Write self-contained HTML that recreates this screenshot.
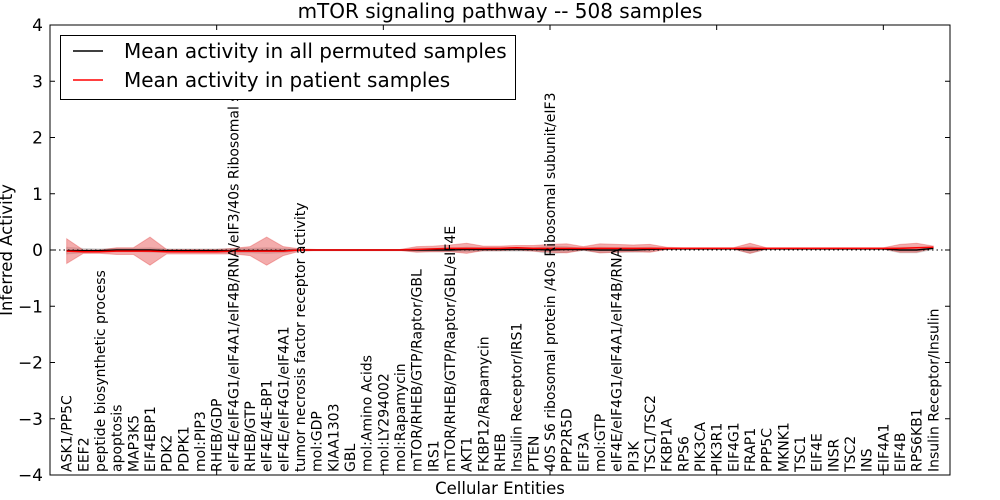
<!DOCTYPE html>
<html><head><meta charset="utf-8"><style>
body{margin:0;background:#fff;}
svg{display:block;font-family:"DejaVu Sans","Liberation Sans",sans-serif;}
</style></head><body>
<svg id="chart" width="1000" height="500" viewBox="0 0 1000 500">
<rect x="0" y="0" width="1000" height="500" fill="#fff"/>
<g id="plot"></g>
</svg>
<script>
const categories=["ASK1/PP5C","EEF2","peptide biosynthetic process","apoptosis","MAP3K5","EIF4EBP1","PDK2","PDPK1","mol:PIP3","RHEB/GDP","eIF4E/eIF4G1/eIF4A1/eIF4B/RNA/eIF3/40s Ribosomal s","RHEB/GTP","eIF4E/4E-BP1","eIF4E/eIF4G1/eIF4A1","tumor necrosis factor receptor activity","mol:GDP","KIAA1303","GBL","mol:Amino Acids","mol:LY294002","mol:Rapamycin","mTOR/RHEB/GTP/Raptor/GBL","IRS1","mTOR/RHEB/GTP/Raptor/GBL/eIF4E","AKT1","FKBP12/Rapamycin","RHEB","Insulin Receptor/IRS1","PTEN","40S S6 ribosomal protein /40s Ribosomal subunit/eIF3","PPP2R5D","EIF3A","mol:GTP","eIF4E/eIF4G1/eIF4A1/eIF4B/RNA","PI3K","TSC1/TSC2","FKBP1A","RPS6","PIK3CA","PIK3R1","EIF4G1","FRAP1","PPP5C","MKNK1","TSC1","EIF4E","INSR","TSC2","INS","EIF4A1","EIF4B","RPS6KB1","Insulin Receptor/Insulin"];
const patientMean=[-0.02,-0.03,-0.03,-0.02,-0.02,-0.02,-0.03,-0.03,-0.03,-0.03,-0.02,-0.02,-0.02,-0.02,0,0,0,0,0,0,0,0.01,0.02,0.03,0.03,0.03,0.03,0.04,0.03,0.03,0.03,0.03,0.03,0.03,0.03,0.03,0.03,0.03,0.03,0.03,0.03,0.03,0.03,0.03,0.03,0.03,0.03,0.03,0.03,0.03,0.03,0.04,0.05];
const patientSpread=[0.22,0.03,0.03,0.06,0.06,0.25,0.04,0.04,0.04,0.04,0.05,0.08,0.25,0.08,0.02,0.01,0.01,0.01,0.01,0.01,0.01,0.05,0.05,0.06,0.09,0.04,0.04,0.04,0.05,0.07,0.08,0.03,0.08,0.07,0.06,0.07,0.02,0.01,0.01,0.01,0.01,0.09,0.01,0.01,0.01,0.01,0.01,0.01,0.01,0.01,0.07,0.08,0.02];
const permMean=[-0.01,-0.01,-0.01,0,0,0,-0.01,-0.01,-0.01,-0.01,-0.01,-0.01,-0.01,-0.01,0,0,0,0,0,0,0,0,0,0,0.01,0.01,0.01,0.01,0.01,0,0.01,0.01,0,0,0,0.01,0.02,0.02,0.02,0.02,0.02,0,0.02,0.02,0.02,0.02,0.02,0.02,0.02,0.02,0,0,0.03];
const permSpread=[0.06,0.04,0.03,0.03,0.03,0.04,0.03,0.03,0.03,0.03,0.04,0.04,0.05,0.04,0.01,0.01,0.01,0.01,0.01,0.01,0.01,0.03,0.03,0.03,0.04,0.03,0.03,0.03,0.03,0.07,0.05,0.02,0.05,0.04,0.04,0.04,0.01,0.01,0.01,0.01,0.01,0.06,0.01,0.01,0.01,0.01,0.01,0.01,0.01,0.01,0.05,0.05,0.02];
const yTicks=[-4,-3,-2,-1,0,1,2,3,4];
const xTicks=[10,20,30,40,50];

const L=50,R=950,T=25,B=475;
const xs=i=>L+(i+1)*(R-L)/(categories.length+1);
const xv=v=>L+v*(R-L)/(categories.length+1);
const ys=v=>T+(4-v)*(B-T)/8;
const NS="http://www.w3.org/2000/svg";
const g=document.getElementById('plot');
function mk(tag,attrs,parent){const e=document.createElementNS(NS,tag);for(const k in attrs)e.setAttribute(k,attrs[k]);(parent||g).appendChild(e);return e;}
function band(mean,spread,fill,op,name){
  let pts=[];
  for(let i=0;i<mean.length;i++)pts.push(xs(i)+','+ys(mean[i]+spread[i]));
  for(let i=mean.length-1;i>=0;i--)pts.push(xs(i)+','+ys(mean[i]-spread[i]));
  const p=mk('polygon',{points:pts.join(' '),fill:fill,'fill-opacity':op,stroke:fill,'stroke-opacity':op*0.8,'stroke-width':1});
  
  
}
function line(mean,color,name){
  const p=mk('polyline',{points:mean.map((v,i)=>xs(i)+','+ys(v)).join(' '),fill:'none',stroke:color,'stroke-width':1.5});
  
  
}
band(permMean,permSpread,'#aaaaaa',0.4,'permuted-band');
band(patientMean,patientSpread,'#e03030',0.4,'patient-band');
const z=mk('line',{x1:L,x2:R,y1:ys(0),y2:ys(0),stroke:'#000','stroke-dasharray':'1.5,3','stroke-width':1});


line(permMean,'#000','permuted-mean-line');
line(patientMean,'#ff0000','patient-mean-line');
categories.forEach((c,i)=>{
  const x=xs(i)+5,y=472;
  const t=mk('text',{x:x,y:y,transform:`rotate(-90 ${x} ${y})`,'font-size':14,fill:'#000'});
  t.textContent=c;
  
  
});
const fr=mk('rect',{x:L,y:T,width:R-L,height:B-T,fill:'none',stroke:'#000','stroke-width':1});


yTicks.forEach(v=>{
  const y=ys(v);
  mk('line',{x1:L,x2:L+5,y1:y,y2:y,stroke:'#000'});
  mk('line',{x1:R-5,x2:R,y1:y,y2:y,stroke:'#000'});
  const t=mk('text',{x:L-7,y:y+6,'text-anchor':'end','font-size':17});
  t.textContent=(v<0?'\u2212':'')+Math.abs(v);
  
  
});
xTicks.forEach(v=>{
  const x=xv(v);
  mk('line',{x1:x,x2:x,y1:T,y2:T+5,stroke:'#000'});
  mk('line',{x1:x,x2:x,y1:B-5,y2:B,stroke:'#000'});
});
</script>
<svg width="1000" height="500" style="position:absolute;left:0;top:0" font-family="DejaVu Sans, Liberation Sans, sans-serif">
<text x="500" y="18" text-anchor="middle" font-size="20">mTOR signaling pathway -- 508 samples</text>
<text x="500" y="494" text-anchor="middle" font-size="16.5">Cellular Entities</text>
<text x="12" y="250" text-anchor="middle" font-size="16.5" transform="rotate(-90 12 250)">Inferred Activity</text>
<g>
<rect x="60.5" y="35.5" width="455" height="64" fill="#fff" stroke="#000"/>
<line x1="73" x2="103" y1="51" y2="51" stroke="#000" stroke-width="1.5"/>
<text x="124" y="58" font-size="20">Mean activity in all permuted samples</text>
<line x1="73" x2="103" y1="80" y2="80" stroke="#ff0000" stroke-width="1.5"/>
<text x="124" y="87" font-size="20">Mean activity in patient samples</text>
</g>
</svg>
</body></html>
